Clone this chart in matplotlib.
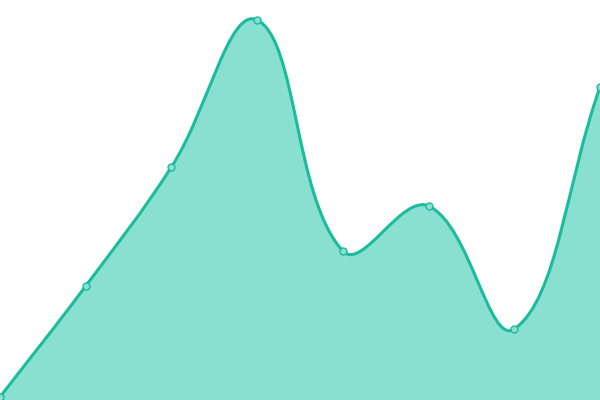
import numpy as np
import matplotlib
matplotlib.use('Agg')
import matplotlib.pyplot as plt
from matplotlib.path import Path
from matplotlib.patches import PathPatch

# data
labels = ['a', 'b', 'c', 'd', 'e', 'f', 'g', 'h']
values = [3, 114, 233, 380, 149, 194, 71, 313]

line_color = '#1abc9c'
fill_color = '#8ae0d0'

x = np.arange(len(values), dtype=float)
y = np.array(values, dtype=float)

fig = plt.figure(figsize=(6, 4), dpi=100)
ax = fig.add_axes([0, 0, 1, 1])
ax.set_xlim(0, len(values) - 1)
ax.set_ylim(0, 400)
ax.axis('off')

# chart.js style bezier smoothing (tension 0.4), worked out in pixel space
tension = 0.4
xs = 600.0 / (len(values) - 1)
px, py = x * xs, y
cps = []
for i in range(len(values)):
    p = (px[max(i - 1, 0)], py[max(i - 1, 0)])
    c = (px[i], py[i])
    n = (px[min(i + 1, len(values) - 1)], py[min(i + 1, len(values) - 1)])
    d01 = np.hypot(c[0] - p[0], c[1] - p[1])
    d12 = np.hypot(n[0] - c[0], n[1] - c[1])
    tot = d01 + d12 if d01 + d12 else 1
    fa = tension * d01 / tot
    fb = tension * d12 / tot
    cp1 = (c[0] - fa * (n[0] - p[0]), c[1] - fa * (n[1] - p[1]))
    cp2 = (c[0] + fb * (n[0] - p[0]), c[1] + fb * (n[1] - p[1]))
    cps.append((cp1, cp2))

verts = [(x[0], y[0])]
codes = [Path.MOVETO]
for i in range(1, len(values)):
    a = cps[i - 1][1]
    b = cps[i][0]
    verts += [(a[0] / xs, a[1]), (b[0] / xs, b[1]), (x[i], y[i])]
    codes += [Path.CURVE4] * 3

line_path = Path(verts, codes)
area_path = Path(verts + [(x[-1], 0), (x[0], 0), (x[0], y[0])],
                 codes + [Path.LINETO, Path.LINETO, Path.CLOSEPOLY])

ax.add_patch(PathPatch(area_path, facecolor=fill_color, edgecolor='none'))
ax.add_patch(PathPatch(line_path, facecolor='none', edgecolor=line_color, lw=2.2))
ax.plot(x, y, 'o', ms=5, mfc=fill_color, mec=line_color, mew=1, clip_on=False)

fig.savefig('out.png', dpi=100)
